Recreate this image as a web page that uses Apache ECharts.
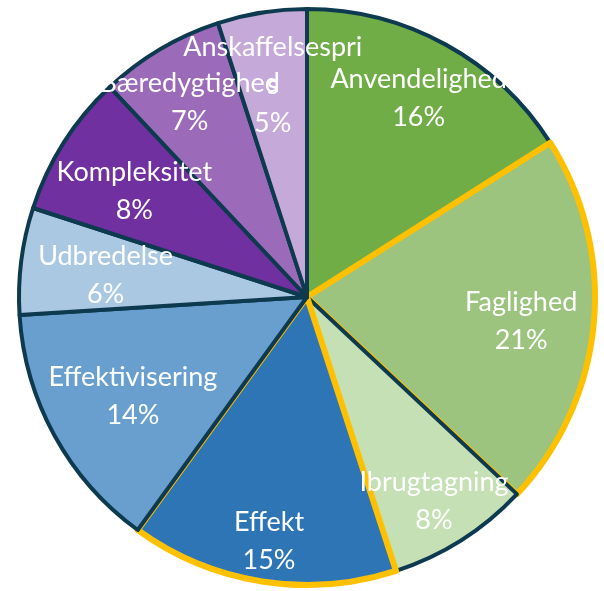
<!DOCTYPE html>
<html>
<head>
<meta charset="utf-8">
<script src="https://cdn.jsdelivr.net/npm/echarts@6/dist/echarts.min.js"></script>
<style>
html,body{margin:0;padding:0;background:#ffffff;}
#chart{width:604px;height:591px;}
</style>
</head>
<body>
<div id="chart"></div>
<script>
// Data
const categories = ['Anvendelighed','Faglighed','Ibrugtagning','Effekt','Effektivisering','Udbredelse','Kompleksitet','Bæredygtighed','Anskaffelsespris'];
const values = [16, 21, 8, 15, 14, 6, 8, 7, 5];

// Styles
const sliceColors = ['#70AD47','#9DC47F','#C5E0B4','#2E75B6','#699FCF','#ABC8E3','#7030A0','#9B6BBA','#C5A9D8'];
const highlighted = ['Faglighed','Effekt'];
const navy = '#0E3A50';
const yellow = '#FFC000';
const labelRadius = [0.805, 0.747, 0.823, 0.844, 0.69, 0.705, 0.71, 0.80, 0.76];
const CX = 307, CY = 297, R = 288;

const total = values.reduce((a, b) => a + b, 0);
const midAngles = [];
let cum = 0;
values.forEach(v => { midAngles.push((cum + v / 2) / total * Math.PI * 2); cum += v; });

const chart = echarts.init(document.getElementById('chart'), null, {renderer: 'canvas'});
chart.setOption({
  animation: false,
  backgroundColor: '#ffffff',
  series: [{
    type: 'pie',
    center: [CX, CY],
    radius: [0, R],
    startAngle: 90,
    clockwise: true,
    avoidLabelOverlap: false,
    silent: true,
    label: {
      show: true,
      position: 'inside',
      color: '#ffffff',
      fontFamily: 'Lato',
      fontSize: 27,
      lineHeight: 38,
      align: 'center',
      formatter: p => p.name + '\n' + p.value + '%'
    },
    labelLine: {show: false},
    labelLayout: params => {
      const i = params.dataIndex;
      const a = midAngles[i];
      const r = labelRadius[i] * R;
      return {
        x: CX + r * Math.sin(a),
        y: CY - r * Math.cos(a) + 4,
        align: 'center',
        verticalAlign: 'middle'
      };
    },
    data: categories.map((name, i) => {
      const hi = highlighted.includes(name);
      const item = {
        name: name,
        value: values[i],
        itemStyle: {
          color: sliceColors[i],
          borderColor: hi ? yellow : navy,
          borderWidth: hi ? 6 : 4
        }
      };
      if (name === 'Anskaffelsespris') {
        item.label = {width: 182, overflow: 'break'};
      }
      return item;
    })
  }]
});
</script>
</body>
</html>
